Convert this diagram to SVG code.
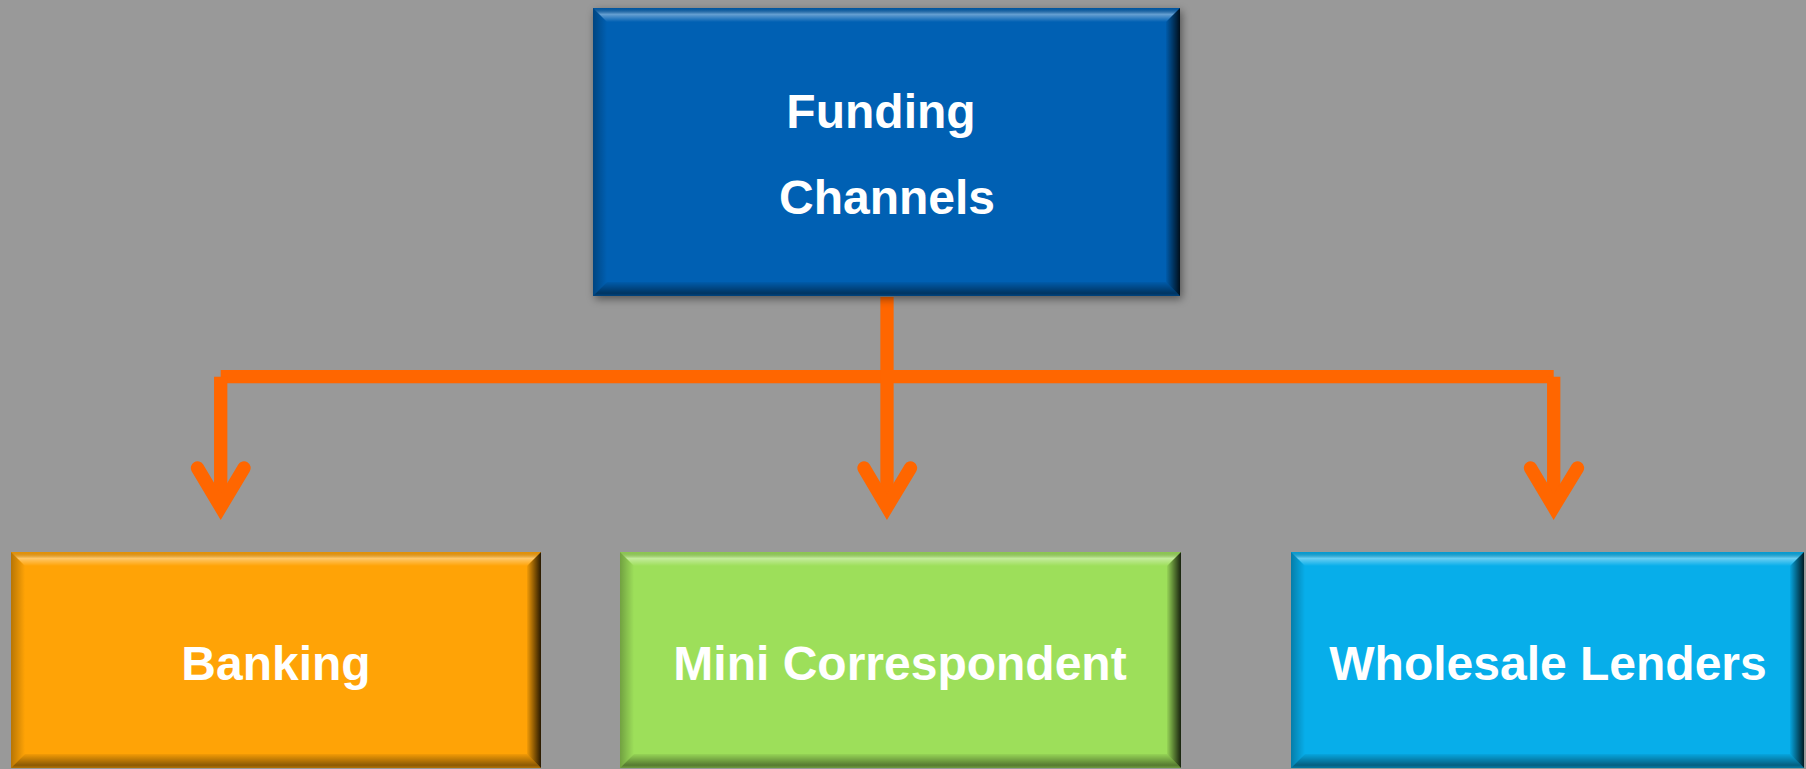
<svg xmlns="http://www.w3.org/2000/svg" width="1806" height="769" viewBox="0 0 1806 769">
<style>
.lbl{font-family:"Liberation Sans",Arial,sans-serif;font-weight:bold;font-size:48px;fill:#FFFFFF;text-anchor:middle}
.ln{stroke:#FF6600;stroke-width:13.3;fill:none;stroke-linecap:butt}
.ah{stroke:#FF6600;stroke-width:13.3;fill:none;stroke-linecap:round;stroke-linejoin:miter}
.bt{fill:url(#gTop)}
.br{fill:url(#gRight)}
.bb{fill:url(#gBottom)}
.bl{fill:url(#gLeft)}
</style>
<defs>
<linearGradient id="gTop" x1="0" y1="0" x2="0" y2="1">
<stop offset="0" stop-color="#000" stop-opacity="0.1"/>
<stop offset="0.45" stop-color="#fff" stop-opacity="0.4"/>
<stop offset="1" stop-color="#fff" stop-opacity="0"/>
</linearGradient>
<linearGradient id="gRight" x1="0" y1="0" x2="1" y2="0">
<stop offset="0" stop-color="#000" stop-opacity="0.05"/>
<stop offset="1" stop-color="#000" stop-opacity="0.85"/>
</linearGradient>
<linearGradient id="gBottom" x1="0" y1="0" x2="0" y2="1">
<stop offset="0" stop-color="#000" stop-opacity="0.05"/>
<stop offset="0.8" stop-color="#000" stop-opacity="0.45"/>
<stop offset="1" stop-color="#000" stop-opacity="0.3"/>
</linearGradient>
<linearGradient id="gLeft" x1="0" y1="0" x2="1" y2="0">
<stop offset="0" stop-color="#000" stop-opacity="0.28"/>
<stop offset="1" stop-color="#000" stop-opacity="0"/>
</linearGradient>
<filter id="shadow" x="-5%" y="-5%" width="110%" height="115%">
<feDropShadow dx="2" dy="3" stdDeviation="4" flood-color="#000" flood-opacity="0.45"/>
</filter>
</defs>
<rect x="0" y="0" width="1806" height="769" fill="#999999"/>

<g id="connectors">
<line class="ln" x1="220.7" y1="376.7" x2="1553.7" y2="376.7"/>
<line class="ln" x1="887" y1="297" x2="887" y2="505"/>
<line class="ln" x1="220.7" y1="376.7" x2="220.7" y2="505"/>
<line class="ln" x1="1553.7" y1="376.7" x2="1553.7" y2="505"/>
<path class="ah" d="M197.5,468 L220.7,507 L244,468"/>
<path class="ah" d="M864,468 L887,507 L910.5,468"/>
<path class="ah" d="M1530.5,468 L1553.7,507 L1577.5,468"/>
</g>

<g id="node-funding">
<rect x="593" y="8" width="587" height="288" fill="#0561B3" filter="url(#shadow)"/>
<path class="bt" d="M593,8 H1180 L1166,22 H607 Z"/>
<path class="br" d="M1180,8 V296 L1166,282 V22 Z"/>
<path class="bb" d="M593,296 H1180 L1166,282 H607 Z"/>
<path class="bl" d="M593,8 V296 L607,282 V22 Z"/>
<text class="lbl" x="881" y="128">Funding</text>
<text class="lbl" x="887" y="214">Channels</text>
</g>

<g id="node-banking">
<rect x="11" y="552" width="530" height="216" fill="#FFA306"/>
<path class="bt" d="M11,552 H541 L527,566 H25 Z"/>
<path class="br" d="M541,552 V768 L527,754 V566 Z"/>
<path class="bb" d="M11,768 H541 L527,754 H25 Z"/>
<path class="bl" d="M11,552 V768 L25,754 V566 Z"/>
<text class="lbl" x="276" y="680">Banking</text>
</g>

<g id="node-mini">
<rect x="620" y="552" width="561" height="216" fill="#9DDF5A"/>
<path class="bt" d="M620,552 H1181 L1167,566 H634 Z"/>
<path class="br" d="M1181,552 V768 L1167,754 V566 Z"/>
<path class="bb" d="M620,768 H1181 L1167,754 H634 Z"/>
<path class="bl" d="M620,552 V768 L634,754 V566 Z"/>
<text class="lbl" x="900" y="680">Mini Correspondent</text>
</g>

<g id="node-wholesale">
<rect x="1291" y="552" width="513" height="216" fill="#07AEEA"/>
<path class="bt" d="M1291,552 H1804 L1790,566 H1305 Z"/>
<path class="br" d="M1804,552 V768 L1790,754 V566 Z"/>
<path class="bb" d="M1291,768 H1804 L1790,754 H1305 Z"/>
<path class="bl" d="M1291,552 V768 L1305,754 V566 Z"/>
<text class="lbl" x="1548" y="680">Wholesale Lenders</text>
</g>
</svg>
